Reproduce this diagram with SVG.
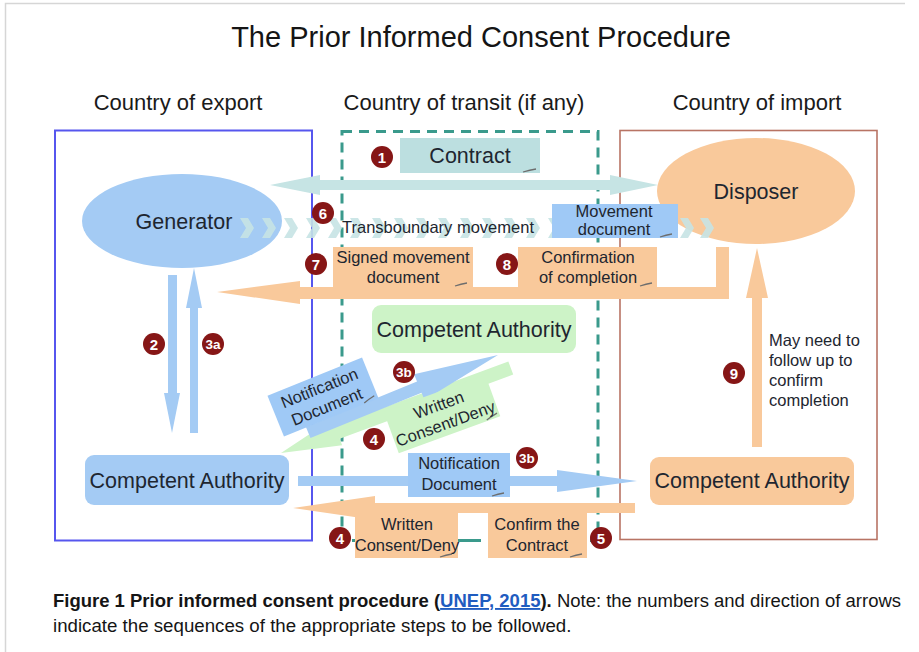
<svg xmlns="http://www.w3.org/2000/svg" xmlns:xlink="http://www.w3.org/1999/xlink" width="919" height="652" viewBox="0 0 919 652">
<style>
  text { font-family: "Liberation Sans", Arial, sans-serif; fill: #1e2630; }
  .title { font-size: 29px; text-anchor: middle; fill: #151515; }
  .hdr { font-size: 22px; text-anchor: middle; fill: #1a1a1a; }
  .big { font-size: 21.5px; text-anchor: middle; }
  .sm { font-size: 16.5px; text-anchor: middle; }
  .note { font-size: 16.5px; }
  .num { font-size: 15px; font-weight: bold; fill: #ffffff; text-anchor: middle; }
  .badge { fill: #861616; }
  .blue { fill: #a4cbf4; }
  .bluebox { fill: #9fc9f6; }
  .orange { fill: #f9c99b; }
  .teal { fill: #bcdfe0; }
  .tealarrow { fill: #c6e4e4; }
  .green { fill: #cdf3c7; }
  .fold { fill: none; stroke: #6d6d6d; stroke-width: 1.3; }
  .cap { font-size: 18.7px; fill: #151515; }
</style>
<defs>
  <polygon id="chev" points="0,0 8,0 14,10 8,20 0,20 6,10" fill="#c7e3e4" opacity="0.9"/>
</defs>
<rect width="919" height="652" fill="#ffffff"/>
<path d="M5.5 652 V3.5 H905" fill="none" stroke="#d6d6d6" stroke-width="1.5"/>

<text class="title" x="481" y="47">The Prior Informed Consent Procedure</text>
<text class="hdr" x="178" y="110">Country of export</text>
<text class="hdr" x="464" y="110">Country of transit (if any)</text>
<text class="hdr" x="757" y="110">Country of import</text>

<g id="country-export"><rect x="55" y="130.5" width="257" height="410" fill="none" stroke="#5656ee" stroke-width="2"/></g>
<g id="country-transit"><rect x="342" y="131.5" width="256" height="409" fill="none" stroke="#3a9a8c" stroke-width="3" stroke-dasharray="10 7"/></g>
<g id="country-import"><rect x="620" y="130.5" width="257" height="409" fill="none" stroke="#b87464" stroke-width="1.6"/></g>

<g id="generator">
  <ellipse cx="182" cy="221" rx="100" ry="47" class="blue"/>
  <text class="big" x="184" y="229">Generator</text>
</g>
<g id="disposer">
  <ellipse cx="756" cy="191" rx="99" ry="53" class="orange"/>
  <text class="big" x="756" y="199">Disposer</text>
</g>
<g id="ca-export">
  <rect x="85" y="455" width="204" height="50" rx="9" class="blue"/>
  <text class="big" x="187" y="488">Competent Authority</text>
</g>
<g id="ca-transit">
  <rect x="372" y="305" width="204" height="48" rx="9" class="green"/>
  <text class="big" x="474" y="337">Competent Authority</text>
</g>
<g id="ca-import">
  <rect x="650" y="457" width="204" height="48" rx="9" class="orange"/>
  <text class="big" x="752" y="488">Competent Authority</text>
</g>

<g id="connectors">
  <!-- 1 contract double arrow -->
  <polygon class="tealarrow" points="270,185 320,175 320,180 610,180 610,175 658,185 610,195 610,190 320,190 320,195"/>
  <!-- 6 transboundary movement chevrons -->
  <g id="chevrons">
    <use xlink:href="#chev" x="240" y="218"/><use xlink:href="#chev" x="262" y="218"/>
    <use xlink:href="#chev" x="284" y="218"/><use xlink:href="#chev" x="306" y="218"/>
    <use xlink:href="#chev" x="328" y="218"/><use xlink:href="#chev" x="350" y="218"/>
    <use xlink:href="#chev" x="372" y="218"/><use xlink:href="#chev" x="394" y="218"/>
    <use xlink:href="#chev" x="416" y="218"/><use xlink:href="#chev" x="438" y="218"/>
    <use xlink:href="#chev" x="460" y="218"/><use xlink:href="#chev" x="482" y="218"/>
    <use xlink:href="#chev" x="504" y="218"/><use xlink:href="#chev" x="526" y="218"/>
    <use xlink:href="#chev" x="548" y="218"/><use xlink:href="#chev" x="570" y="218"/>
    <use xlink:href="#chev" x="592" y="218"/><use xlink:href="#chev" x="614" y="218"/>
    <use xlink:href="#chev" x="636" y="218"/><use xlink:href="#chev" x="658" y="218"/>
    <use xlink:href="#chev" x="680" y="218"/><use xlink:href="#chev" x="700" y="218"/>
  </g>
  <!-- 7/8 return arrow from disposer -->
  <path class="orange" d="M729 247 V299 H300 V304 L217 292 L300 281 V287 H716 V247 Z"/>
  <!-- 2 down arrow -->
  <polygon class="blue" points="168,275 177,275 177,393 180,393 172,433 164,393 168,393"/>
  <!-- 3a up arrow -->
  <polygon class="blue" points="190,433 198,433 198,308 202,308 194,268 186,308 190,308"/>
  <!-- 4 written consent from transit CA -->
  <g transform="translate(281,453) rotate(-20.3)">
    <polygon class="green" points="0,0 60,-14 60,-7 245,-7 245,7 60,7 60,14"/>
  </g>
  <!-- 3b notification to transit CA -->
  <g transform="translate(498,355) rotate(-22.2)">
    <polygon class="blue" points="0,0 -85,-14 -85,-6 -205,-6 -205,6 -85,6 -85,14"/>
  </g>
  <!-- 3b notification to import CA -->
  <polygon class="blue" points="298,476 557,476 557,470 637,481 557,492 557,486 298,486"/>
  <!-- 4/5 consent back -->
  <polygon class="orange" points="635,503 635,513 375,513 375,520 293,508 375,496 375,503"/>
  <!-- 9 follow up -->
  <polygon class="orange" points="752,447 762,447 762,298 768,298 757,248 746,298 752,298"/>
</g>

<g id="label-contract">
  <rect x="400" y="138" width="140" height="35" class="teal"/>
  <path class="fold" d="M523 172 Q530 170 536 169"/>
  <text class="big" x="470" y="163">Contract</text>
</g>
<g id="label-transboundary">
  <text class="sm" x="438" y="233">Transboundary movement</text>
</g>
<g id="label-movement-doc">
  <rect x="552" y="204" width="126" height="34" class="bluebox"/>
  <path class="fold" d="M660 237 Q666 235 672 234"/>
  <text class="sm" x="614" y="217">Movement</text>
  <text class="sm" x="614" y="235">document</text>
</g>
<g id="label-signed">
  <rect x="333" y="247" width="140" height="40" class="orange"/>
  <path class="fold" d="M455 286 Q461 284 467 283"/>
  <text class="sm" x="403" y="263">Signed movement</text>
  <text class="sm" x="403" y="283">document</text>
</g>
<g id="label-confirmation">
  <rect x="518" y="247" width="139" height="40" class="orange"/>
  <path class="fold" d="M640 286 Q646 284 652 283"/>
  <text class="sm" x="588" y="263">Confirmation</text>
  <text class="sm" x="588" y="283">of completion</text>
</g>
<g id="label-notif-diag" transform="translate(323,397) rotate(-22)">
  <rect x="-51" y="-22" width="102" height="44" class="bluebox"/>
  <path class="fold" d="M36 21 Q42 19 48 18"/>
  <text class="sm" x="0" y="-4">Notification</text>
  <text class="sm" x="0" y="16">Document</text>
</g>
<g id="label-consent-diag" transform="translate(442,414) rotate(-20)">
  <rect x="-54" y="-22" width="108" height="44" class="green"/>
  <path class="fold" d="M40 21 Q46 19 52 18"/>
  <text class="sm" x="0" y="-4">Written</text>
  <text class="sm" x="0" y="16">Consent/Deny</text>
</g>
<g id="label-notif-h">
  <rect x="408" y="453" width="102" height="44" class="bluebox"/>
  <path class="fold" d="M492 496 Q498 494 504 493"/>
  <text class="sm" x="459" y="469">Notification</text>
  <text class="sm" x="459" y="490">Document</text>
</g>
<g id="label-consent-h">
  <rect x="355" y="505" width="103" height="53" class="orange"/>
  <path class="fold" d="M440 557 Q446 555 452 554"/>
  <text class="sm" x="407" y="530">Written</text>
  <text class="sm" x="407" y="551">Consent/Deny</text>
</g>
<g id="transit-gap"><path d="M461 540.5 H474" stroke="#3a9a8c" stroke-width="3"/></g>
<g id="label-confirm-contract">
  <rect x="488" y="505" width="99" height="53" class="orange"/>
  <path class="fold" d="M570 557 Q576 555 582 554"/>
  <text class="sm" x="537" y="530">Confirm the</text>
  <text class="sm" x="537" y="551">Contract</text>
</g>
<g id="label-followup">
  <text class="note" x="769" y="346">May need to</text>
  <text class="note" x="769" y="366">follow up to</text>
  <text class="note" x="769" y="386">confirm</text>
  <text class="note" x="769" y="406">completion</text>
</g>

<g id="badges">
  <circle class="badge" cx="382" cy="157" r="11"/><text class="num" x="382" y="162.5">1</text>
  <circle class="badge" cx="154" cy="344" r="11"/><text class="num" x="154" y="349.5">2</text>
  <circle class="badge" cx="213" cy="344" r="11"/><text class="num" x="213" y="349" style="font-size:13.5px">3a</text>
  <circle class="badge" cx="404" cy="372" r="11"/><text class="num" x="404" y="377" style="font-size:13.5px">3b</text>
  <circle class="badge" cx="527" cy="458" r="11"/><text class="num" x="527" y="463" style="font-size:13.5px">3b</text>
  <circle class="badge" cx="374" cy="439" r="11"/><text class="num" x="374" y="444.5">4</text>
  <circle class="badge" cx="340" cy="538" r="11"/><text class="num" x="340" y="543.5">4</text>
  <circle class="badge" cx="601" cy="538" r="11"/><text class="num" x="601" y="543.5">5</text>
  <circle class="badge" cx="323" cy="213" r="11"/><text class="num" x="323" y="218.5">6</text>
  <circle class="badge" cx="316" cy="264" r="11"/><text class="num" x="316" y="269.5">7</text>
  <circle class="badge" cx="507" cy="264" r="11"/><text class="num" x="507" y="269.5">8</text>
  <circle class="badge" cx="734" cy="373" r="11"/><text class="num" x="734" y="378.5">9</text>
</g>

<g id="caption">
  <text class="cap" x="53" y="607" textLength="848" lengthAdjust="spacingAndGlyphs"><tspan font-weight="bold">Figure 1 Prior informed consent procedure (</tspan><tspan font-weight="bold" style="fill:#1f5cc0" text-decoration="underline">UNEP, 2015</tspan><tspan font-weight="bold">).</tspan> Note: the numbers and direction of arrows</text>
  <text class="cap" x="53" y="632">indicate the sequences of the appropriate steps to be followed.</text>
</g>
</svg>
